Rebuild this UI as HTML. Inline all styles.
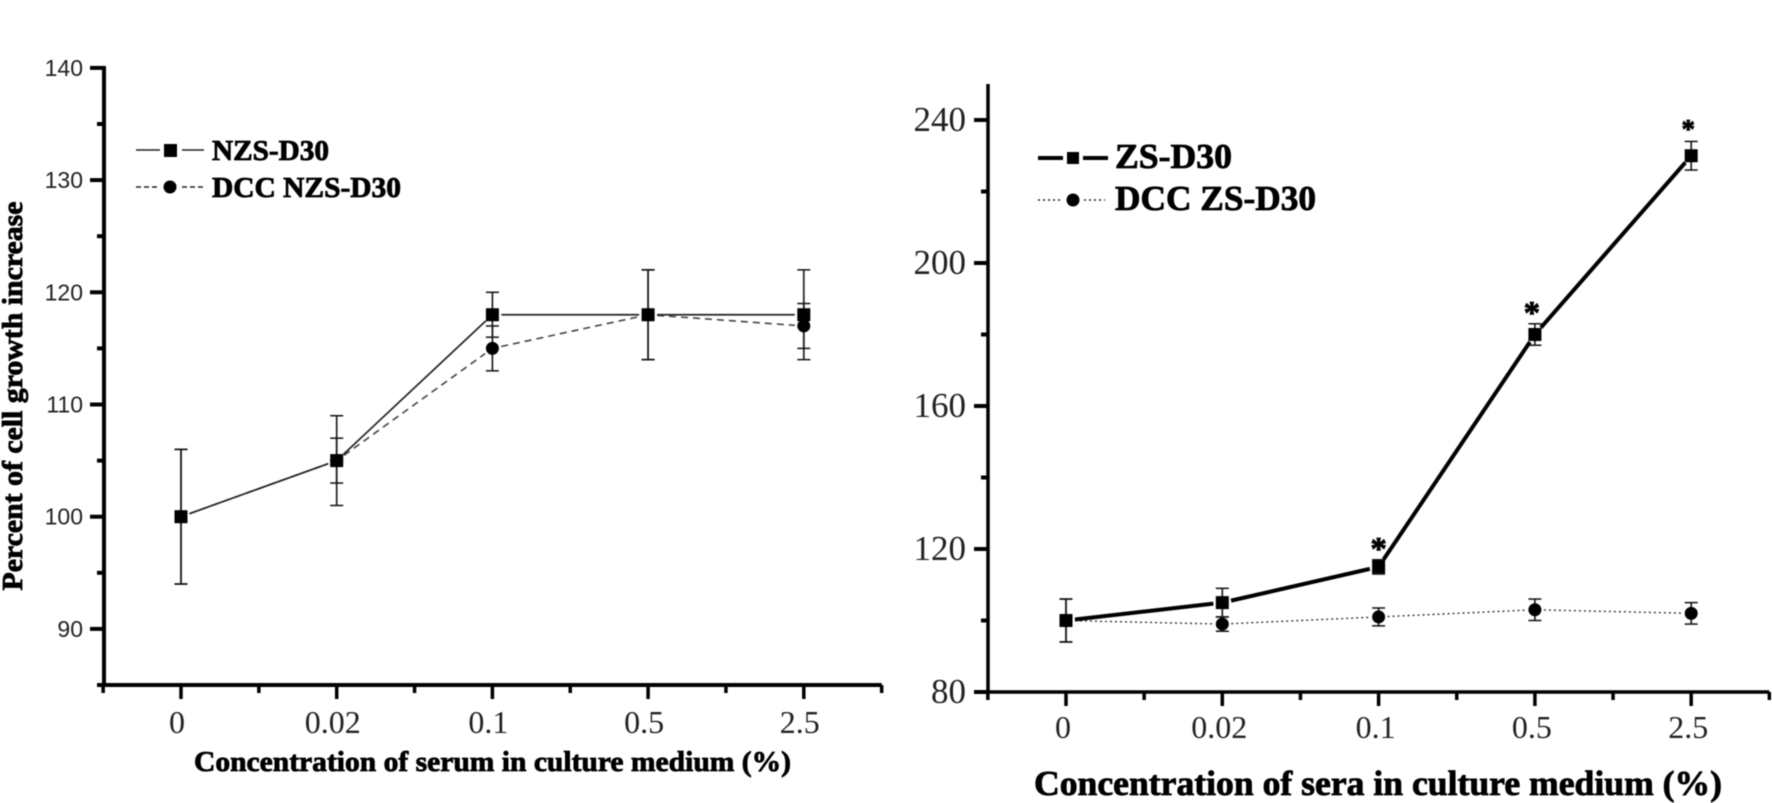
<!DOCTYPE html>
<html lang="en">
<head>
<meta charset="utf-8">
<title>Cell growth increase charts</title>
<style>
html,body{margin:0;padding:0;background:#fff;width:1772px;height:803px;overflow:hidden}
svg{display:block;filter:blur(.4px)}
.sans{font-family:"Liberation Sans",sans-serif;fill:#222}
.serif{font-family:"Liberation Serif",serif;fill:#222}
.bold{font-family:"Liberation Serif",serif;font-weight:700;fill:#000;stroke:#000;stroke-width:.8}
</style>
</head>
<body>
<svg id="figure" xmlns="http://www.w3.org/2000/svg" width="1772" height="803" viewBox="0 0 1772 803">
  <rect width="1772" height="803" fill="#fff"/>
  <g id="left-chart"></g>
  <g id="right-chart"></g>

  <text class="bold" transform="translate(22,396) rotate(-90)" text-anchor="middle" font-size="28" textLength="389" lengthAdjust="spacingAndGlyphs">Percent of cell growth increase</text>
  <text class="bold" x="194" y="771" font-size="29" textLength="597" lengthAdjust="spacingAndGlyphs">Concentration of serum in culture medium (%)</text>
  <text class="bold" x="1034" y="795" font-size="35" textLength="688" lengthAdjust="spacingAndGlyphs">Concentration of sera in culture medium (%)</text>

  <g>
    <line x1="136" x2="160" y1="150" y2="150" stroke="#222" stroke-width="1.5"/>
    <line x1="182" x2="204" y1="150" y2="150" stroke="#222" stroke-width="1.5"/>
    <rect x="164" y="144" width="13" height="13" fill="#000"/>
    <text class="bold" x="212" y="160" font-size="28" textLength="117" lengthAdjust="spacingAndGlyphs">NZS-D30</text>
    <line x1="136" x2="160" y1="187" y2="187" stroke="#222" stroke-width="1.5" stroke-dasharray="5 3"/>
    <line x1="182" x2="205" y1="187" y2="187" stroke="#222" stroke-width="1.5" stroke-dasharray="5 3"/>
    <circle cx="170" cy="187" r="6.5" fill="#000"/>
    <text class="bold" x="212" y="197" font-size="28" textLength="189" lengthAdjust="spacingAndGlyphs">DCC NZS-D30</text>
  </g>

  <g>
    <line x1="1038" x2="1063" y1="158" y2="158" stroke="#000" stroke-width="4"/>
    <line x1="1083" x2="1108" y1="158" y2="158" stroke="#000" stroke-width="4"/>
    <rect x="1067" y="152" width="12" height="12" fill="#000"/>
    <text class="bold" x="1115" y="168" font-size="35" textLength="117" lengthAdjust="spacingAndGlyphs">ZS-D30</text>
    <line x1="1038" x2="1061" y1="200" y2="200" stroke="#222" stroke-width="1.5" stroke-dasharray="2 3"/>
    <line x1="1084" x2="1105" y1="200" y2="200" stroke="#222" stroke-width="1.5" stroke-dasharray="2 3"/>
    <circle cx="1073" cy="200" r="6.5" fill="#000"/>
    <text class="bold" x="1115" y="210" font-size="35" textLength="201" lengthAdjust="spacingAndGlyphs">DCC ZS-D30</text>
  </g>
</svg>

<script>
// ---- chart data ----
const categories = ['0', '0.02', '0.1', '0.5', '2.5'];

const leftYTickLabels = [90, 100, 110, 120, 130, 140];
const leftYMinorTicks = [85, 95, 105, 115, 125, 135];
const nzsValues = [100, 105, 118, 118, 118];
const nzsErrors = [6, 4, 2, 4, 4];
const dccNzsValues = [100, 105, 115, 118, 117];
const dccNzsErrors = [6, 2, 2, 4, 2];

const rightYTickLabels = [80, 120, 160, 200, 240];
const rightYMinorTicks = [100, 140, 180, 220];
const zsValues = [100, 105, 115, 180, 230];
const zsErrors = [6, 4, 2, 3, 4];
const dccZsValues = [100, 99, 101, 103, 102];
const dccZsErrors = [6, 2, 2.5, 3, 3];
const starredCategories = ['0.1', '0.5', '2.5'];

// ---- drawing ----
const SVG_NS = 'http://www.w3.org/2000/svg';

function make(parent, tag, attrs) {
  const el = document.createElementNS(SVG_NS, tag);
  for (const k in attrs) el.setAttribute(k, attrs[k]);
  parent.appendChild(el);
  return el;
}

function drawAxes(g, o) {
  let el = make(g, 'line', {x1: o.axisX, x2: o.axisX, y1: o.axisTop, y2: o.y(o.yMin) + 2, stroke: '#000', 'stroke-width': o.axisWidth});
  
  
  el = make(g, 'line', {x1: o.axisX - 2, x2: o.x(categories.length - 0.5), y1: o.y(o.yMin), y2: o.y(o.yMin), stroke: '#000', 'stroke-width': o.axisWidth});
  
  

  o.yTicks.forEach(function (v) {
    let t = make(g, 'line', {x1: o.axisX - 14, x2: o.axisX, y1: o.y(v), y2: o.y(v), stroke: '#000', 'stroke-width': 4});
    
    
    t = make(g, 'text', {x: o.yLabelX, y: o.y(v) + o.yLabelDy, 'text-anchor': 'end', 'font-size': o.yLabelSize, class: o.yLabelClass});
    t.textContent = v;
    
    
  });
  o.yMinor.forEach(function (v) {
    const t = make(g, 'line', {x1: o.axisX - 7, x2: o.axisX, y1: o.y(v), y2: o.y(v), stroke: '#000', 'stroke-width': 4});
    
    
  });

  categories.forEach(function (c, i) {
    let t = make(g, 'line', {x1: o.x(i), x2: o.x(i), y1: o.y(o.yMin), y2: o.y(o.yMin) + 14, stroke: '#000', 'stroke-width': 3.5});
    
    
    t = make(g, 'text', {x: o.x(i) + o.xLabelDx, y: o.xLabelY, 'text-anchor': 'middle', 'font-size': 32, class: 'serif'});
    t.textContent = c;
    
    
  });
  for (let i = -0.5; i < categories.length; i += 1) {
    const t = make(g, 'line', {x1: o.x(i), x2: o.x(i), y1: o.y(o.yMin), y2: o.y(o.yMin) + 8, stroke: '#000', 'stroke-width': 3.5});
    
    
  }
}

function drawSeriesLine(g, o, values, style) {
  for (let i = 0; i < values.length - 1; i++) {
    const x1 = o.x(i), y1 = o.y(values[i]), x2 = o.x(i + 1), y2 = o.y(values[i + 1]);
    const len = Math.hypot(x2 - x1, y2 - y1);
    const ux = (x2 - x1) / len, uy = (y2 - y1) / len;
    const seg = make(g, 'line', {
      x1: x1 + ux * o.gap, y1: y1 + uy * o.gap, x2: x2 - ux * o.gap, y2: y2 - uy * o.gap,
      stroke: style.color, 'stroke-width': style.width, 'stroke-dasharray': style.dash
    });
    
    
  }
}

function drawErrors(g, o, values, errors) {
  values.forEach(function (v, i) {
    const x = o.x(i), top = o.y(v + errors[i]), bot = o.y(v - errors[i]);
    let e = make(g, 'line', {x1: x, x2: x, y1: top, y2: bot, stroke: '#222', 'stroke-width': 1.7});
    
    
    e = make(g, 'line', {x1: x - 6.5, x2: x + 6.5, y1: top, y2: top, stroke: '#111', 'stroke-width': 1.5});
    
    
    e = make(g, 'line', {x1: x - 6.5, x2: x + 6.5, y1: bot, y2: bot, stroke: '#111', 'stroke-width': 1.5});
    
    
  });
}

function drawSquares(g, o, values) {
  values.forEach(function (v, i) {
    const m = make(g, 'rect', {x: o.x(i) - 6.5, y: o.y(v) - 6.5, width: 13, height: 13, fill: '#000'});
    
    
  });
}

function drawCircles(g, o, values) {
  values.forEach(function (v, i) {
    const m = make(g, 'circle', {cx: o.x(i), cy: o.y(v), r: 6.5, fill: '#000'});
    
    
  });
}

const left = {
  x: function (i) { return 181 + i * 155.7; },
  y: function (v) { return 685 - (v - 85) * 11.22; },
  yMin: 85, axisX: 104, axisTop: 66, axisWidth: 4, gap: 9,
  yTicks: leftYTickLabels, yMinor: leftYMinorTicks,
  yLabelX: 83, yLabelDy: 8, yLabelSize: 23, yLabelClass: 'sans', xLabelY: 733, xLabelDx: -4
};
const right = {
  x: function (i) { return 1066 + i * 156.3; },
  y: function (v) { return 692 - (v - 80) * 3.575; },
  yMin: 80, axisX: 988, axisTop: 84, axisWidth: 3.5, gap: 9,
  yTicks: rightYTickLabels, yMinor: rightYMinorTicks,
  yLabelX: 966, yLabelDy: 11, yLabelSize: 35, yLabelClass: 'serif', xLabelY: 738, xLabelDx: -3
};

const leftG = document.getElementById('left-chart');
drawAxes(leftG, left);
drawErrors(leftG, left, nzsValues, nzsErrors);
drawErrors(leftG, left, dccNzsValues, dccNzsErrors);
drawSeriesLine(leftG, left, dccNzsValues, {color: '#444', width: 1.6, dash: '7 5'});
drawSeriesLine(leftG, left, nzsValues, {color: '#222', width: 1.7, dash: 'none'});
drawCircles(leftG, left, dccNzsValues);
drawSquares(leftG, left, nzsValues);

const rightG = document.getElementById('right-chart');
drawAxes(rightG, right);
drawErrors(rightG, right, dccZsValues, dccZsErrors);
drawErrors(rightG, right, zsValues, zsErrors);
drawSeriesLine(rightG, right, dccZsValues, {color: '#333', width: 1.4, dash: '2 3'});
drawSeriesLine(rightG, right, zsValues, {color: '#000', width: 4, dash: 'none'});
drawCircles(rightG, right, dccZsValues);
drawSquares(rightG, right, zsValues);

starredCategories.forEach(function (c) {
  const i = categories.indexOf(c);
  const size = c === '2.5' ? 27 : 33;
  const star = make(rightG, 'text', {
    x: right.x(i) - (c === '0.1' ? 0 : 3),
    y: right.y(zsValues[i] + zsErrors[i]) - 18 + size * 0.54,
    'text-anchor': 'middle', 'font-size': size, class: 'bold'
  });
  star.textContent = '*';
  
  
});
</script>
</body>
</html>
